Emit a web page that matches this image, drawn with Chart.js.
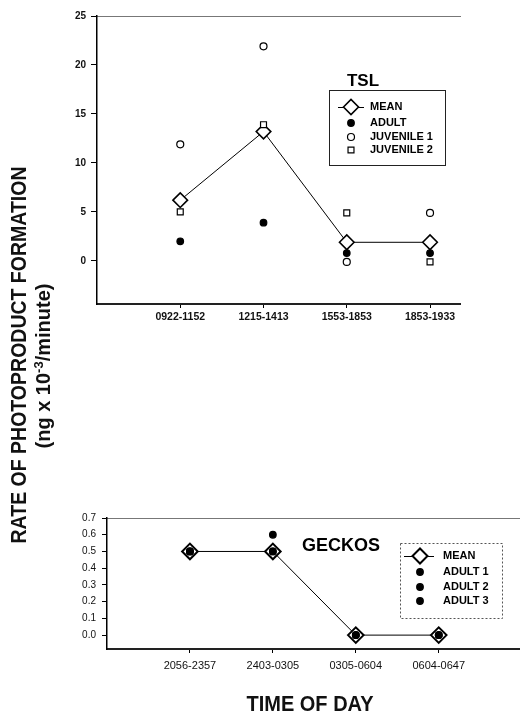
<!DOCTYPE html>
<html>
<head>
<meta charset="utf-8">
<script src="https://cdn.jsdelivr.net/npm/chart.js@4.4.0/dist/chart.umd.min.js"></script>
<style>
  html, body { margin: 0; padding: 0; background: #fff; }
  body { width: 520px; height: 713px; position: relative; overflow: hidden; font-family: "Liberation Sans", Arial, sans-serif; }
  canvas { position: absolute; left: 0; }
  #tslChart { top: 0; }
  #geckoChart { top: 500px; }
  .lbl { position: absolute; white-space: nowrap; font-weight: bold; color: #111; }
  #yTitle1 { left: 19px; top: 355px; font-size: 19.5px; transform: translate(-50%, -50%) rotate(-90deg) scale(1, 1.1); }
  #yTitle2 { left: 43px; top: 366px; font-size: 20px; transform: translate(-50%, -50%) rotate(-90deg); }
  #yTitle2 sup { font-size: 13px; vertical-align: 7px; line-height: 0; }
  #xTitle { left: 310px; top: 704px; font-size: 20px; transform: translate(-50%, -50%) scale(1, 1.1); }
</style>
</head>
<body>
<canvas id="tslChart" width="520" height="340"></canvas>
<canvas id="geckoChart" width="520" height="213"></canvas>
<div class="lbl" id="yTitle1">RATE OF PHOTOPRODUCT FORMATION</div>
<div class="lbl" id="yTitle2">(ng x 10<sup>-3</sup>/minute)</div>
<div class="lbl" id="xTitle">TIME OF DAY</div>
<script>
// TSL panel
const tslTimes = ['0922-1152', '1215-1413', '1553-1853', '1853-1933'];
const tslMean = [6.2, 13.2, 1.9, 1.9];
const tslAdult = [2.0, 3.9, 0.8, 0.8];
const tslJuvenile1 = [11.9, 21.9, -0.1, 4.9];
const tslJuvenile2 = [5.0, 13.9, 4.9, -0.1];
const tslTicks = [0, 5, 10, 15, 20, 25];

// Gecko panel
const geckoTimes = ['2056-2357', '2403-0305', '0305-0604', '0604-0647'];
const geckoMean = [0.5, 0.5, 0.0, 0.0];
const geckoAdult1 = [0.5, 0.6, 0.0, 0.0];
const geckoAdult2 = [0.5, 0.5, 0.0, 0.0];
const geckoAdult3 = [0.5, 0.5, 0.0, 0.0];
const geckoTicks = [0.0, 0.1, 0.2, 0.3, 0.4, 0.5, 0.6, 0.7];

const toPoints = values => values.map((v, i) => ({ x: i + 1, y: v }));

// draws panel title + boxed legend from the datasets
const panelLegend = {
    id: 'panelLegend',
    afterDraw(chart, args, opts) {
        const ctx = chart.ctx;
        ctx.save();
        ctx.fillStyle = '#000';
        ctx.textAlign = 'center';
        ctx.textBaseline = 'middle';
        ctx.font = opts.titleFont;
        ctx.fillText(opts.title, opts.titleX, opts.titleY);

        const b = opts.box;
        ctx.strokeStyle = opts.boxColor;
        ctx.lineWidth = 1;
        ctx.setLineDash(opts.boxDash);
        ctx.strokeRect(b[0] + 0.5, b[1] + 0.5, b[2], b[3]);
        ctx.setLineDash([]);

        chart.data.datasets.forEach((ds, i) => {
            const y = opts.rows[i];
            if (ds.showLine) {
                ctx.strokeStyle = '#000';
                ctx.lineWidth = 1;
                ctx.beginPath();
                ctx.moveTo(opts.lineFrom, y + 0.5);
                ctx.lineTo(opts.lineTo, y + 0.5);
                ctx.stroke();
            }
            ctx.fillStyle = ds.pointBackgroundColor;
            ctx.strokeStyle = ds.pointBorderColor;
            ctx.lineWidth = ds.pointBorderWidth;
            Chart.helpers.drawPoint(ctx, {
                pointStyle: ds.pointStyle,
                radius: ds.showLine ? opts.meanRadius : ds.pointRadius,
                rotation: 0,
                borderWidth: ds.pointBorderWidth
            }, opts.markerX, y);
            ctx.fillStyle = '#000';
            ctx.font = opts.font;
            ctx.textAlign = 'left';
            ctx.fillText(ds.label, opts.textX, y);
        });
        ctx.restore();
    }
};

function meanSet(values, radius, width) {
    return {
        label: 'MEAN', data: toPoints(values), showLine: true,
        borderColor: '#000', borderWidth: 1,
        pointStyle: 'rectRot', pointRadius: radius, pointBorderWidth: width,
        pointBackgroundColor: '#fff', pointBorderColor: '#000', order: 2
    };
}

function markerSet(label, values, style, radius, fill) {
    return {
        label: label, data: toPoints(values), showLine: false,
        pointStyle: style, pointRadius: radius, pointBorderWidth: 1.2,
        pointBackgroundColor: fill, pointBorderColor: '#000', order: 1
    };
}

function buildScales(cfg) {
    return {
        x: {
            type: 'linear', min: 0, max: cfg.xMax,
            afterBuildTicks: s => { s.ticks = cfg.labels.map((_, i) => ({ value: i + 1 })); },
            ticks: {
                callback: v => cfg.labels[Math.round(v) - 1],
                font: cfg.xFont, color: '#111', padding: cfg.xPad,
                maxRotation: 0, autoSkip: false
            },
            grid: { drawOnChartArea: false, tickLength: 4, color: '#000' },
            border: { color: '#222', width: 2 },
            afterFit: s => { s.height = cfg.xHeight; }
        },
        xTop: {
            type: 'linear', position: 'top', min: 0, max: cfg.xMax,
            ticks: { display: false },
            grid: { display: false, drawTicks: false },
            border: { display: true, color: '#777', width: 1, dash: [2, 2] },
            afterFit: s => { s.height = 0; }
        },
        y: {
            type: 'linear', min: cfg.yMin, max: cfg.yMax,
            afterBuildTicks: s => { s.ticks = cfg.yTicks.map(v => ({ value: v })); },
            ticks: {
                callback: cfg.yFormat,
                font: cfg.yFont, color: '#111', padding: cfg.yPad
            },
            grid: { drawOnChartArea: false, tickLength: cfg.yTickLen, color: '#000', lineWidth: 1 },
            border: { color: '#000', width: 1.5 },
            afterFit: s => { s.width = cfg.yWidth; }
        }
    };
}

new Chart(document.getElementById('tslChart'), {
    type: 'scatter',
    data: {
        datasets: [
            meanSet(tslMean, 7.3, 1.6),
            markerSet('ADULT', tslAdult, 'circle', 3.3, '#000'),
            markerSet('JUVENILE 1', tslJuvenile1, 'circle', 3.5, '#fff'),
            markerSet('JUVENILE 2', tslJuvenile2, 'rect', 4.2, '#fff')
        ]
    },
    options: {
        responsive: false,
        animation: false,
        layout: { autoPadding: false, padding: { top: 16, right: 60, left: 0, bottom: 0 } },
        scales: buildScales({
            labels: tslTimes, xMax: 4.36, xHeight: 36, xPad: 3,
            xFont: { family: 'Liberation Sans', size: 10.5, weight: 'bold' },
            yMin: -4.4, yMax: 25, yTicks: tslTicks, yWidth: 97, yPad: 5, yTickLen: 6,
            yFormat: v => String(v),
            yFont: { family: 'Liberation Sans', size: 10, weight: 'bold' }
        }),
        plugins: {
            legend: { display: false },
            tooltip: { enabled: false },
            panelLegend: {
                title: 'TSL', titleX: 363, titleY: 81,
                titleFont: 'bold 17px "Liberation Sans"',
                box: [329, 90, 116, 75], boxColor: '#222', boxDash: [],
                rows: [107, 123, 137, 150],
                markerX: 351, lineFrom: 338, lineTo: 364, meanRadius: 7.5,
                textX: 370, font: 'bold 11px "Liberation Sans"'
            }
        }
    },
    plugins: [panelLegend]
});

new Chart(document.getElementById('geckoChart'), {
    type: 'scatter',
    data: {
        datasets: [
            meanSet(geckoMean, 7.8, 2),
            markerSet('ADULT 1', geckoAdult1, 'circle', 3.3, '#000'),
            markerSet('ADULT 2', geckoAdult2, 'circle', 3.3, '#000'),
            markerSet('ADULT 3', geckoAdult3, 'circle', 3.3, '#000')
        ]
    },
    options: {
        responsive: false,
        animation: false,
        layout: { autoPadding: false, padding: { top: 18, right: 0, left: 0, bottom: 0 } },
        scales: buildScales({
            labels: geckoTimes, xMax: 4.98, xHeight: 64, xPad: 6,
            xFont: { family: 'Liberation Sans', size: 11 },
            yMin: -0.083, yMax: 0.7, yTicks: geckoTicks, yWidth: 107, yPad: 6, yTickLen: 5,
            yFormat: v => v.toFixed(1),
            yFont: { family: 'Liberation Sans', size: 10 }
        }),
        plugins: {
            legend: { display: false },
            tooltip: { enabled: false },
            panelLegend: {
                title: 'GECKOS', titleX: 341, titleY: 46,
                titleFont: 'bold 18px "Liberation Sans"',
                box: [400, 43, 102, 75], boxColor: '#555', boxDash: [2, 2],
                rows: [56, 72, 87, 101],
                markerX: 420, lineFrom: 404, lineTo: 434, meanRadius: 7.5,
                textX: 443, font: 'bold 11px "Liberation Sans"'
            }
        }
    },
    plugins: [panelLegend]
});
</script>
</body>
</html>
